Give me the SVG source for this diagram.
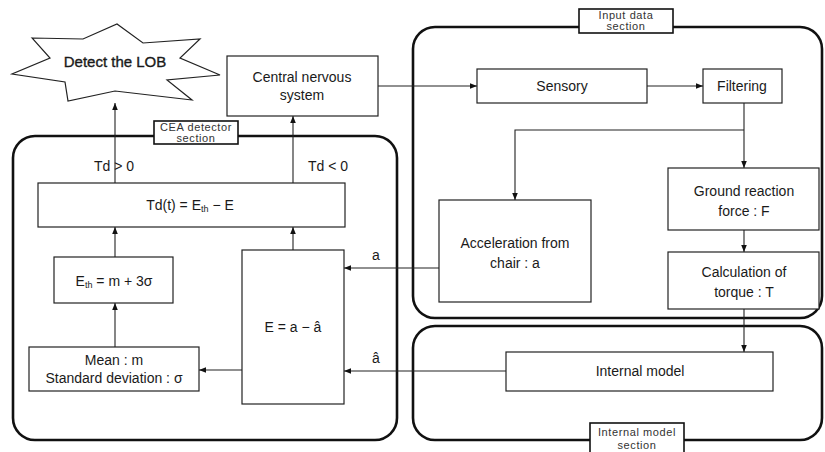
<svg xmlns="http://www.w3.org/2000/svg" width="825" height="452" viewBox="0 0 825 452">
<defs>
<marker id="ah" viewBox="0 0 10 10" refX="10" refY="5" markerWidth="7" markerHeight="7" markerUnits="userSpaceOnUse" orient="auto">
<path d="M0,1 L10,5 L0,9 Z" fill="#111"/>
</marker>
<style>
text{font-family:"Liberation Sans",Arial,sans-serif;fill:#1a1a1a;text-anchor:middle}
.t{font-size:14px}
.s{font-size:11px;letter-spacing:0.6px;fill:#333}
.sub{font-size:9px}
.box{fill:#fff;stroke:#222;stroke-width:1.2}
.sec{fill:none;stroke:#111;stroke-width:2.6}
.lab{fill:#fff;stroke:#111;stroke-width:1.6}
.c{fill:none;stroke:#222;stroke-width:1.1}
</style>
</defs>
<rect width="825" height="452" fill="#fff"/>

<g id="sections">
<rect class="sec" x="13" y="136" width="384" height="304" rx="22"/>
<rect class="sec" x="413" y="27" width="409" height="291" rx="22"/>
<rect class="sec" x="413" y="326" width="409" height="114" rx="22"/>
</g>

<g id="connectors">
<line class="c" x1="115" y1="183" x2="115" y2="103" marker-end="url(#ah)"/>
<line class="c" x1="293" y1="183" x2="293" y2="116" marker-end="url(#ah)"/>
<line class="c" x1="115" y1="257" x2="115" y2="227" marker-end="url(#ah)"/>
<line class="c" x1="115" y1="347" x2="115" y2="303" marker-end="url(#ah)"/>
<line class="c" x1="293" y1="250" x2="293" y2="227" marker-end="url(#ah)"/>
<line class="c" x1="242" y1="370" x2="199" y2="370" marker-end="url(#ah)"/>
<line class="c" x1="439" y1="268" x2="344" y2="268" marker-end="url(#ah)"/>
<line class="c" x1="506" y1="371" x2="344" y2="371" marker-end="url(#ah)"/>
<line class="c" x1="378" y1="86" x2="477" y2="86" marker-end="url(#ah)"/>
<line class="c" x1="647" y1="86" x2="703" y2="86" marker-end="url(#ah)"/>
<line class="c" x1="744" y1="103" x2="744" y2="168" marker-end="url(#ah)"/>
<polyline class="c" points="744,130 515,130 515,200" marker-end="url(#ah)"/>
<line class="c" x1="744" y1="230" x2="744" y2="252" marker-end="url(#ah)"/>
<line class="c" x1="744" y1="309" x2="744" y2="352" marker-end="url(#ah)"/>
<text class="t" x="114" y="171">Td &gt; 0</text>
<text class="t" x="328" y="171">Td &lt; 0</text>
<text class="t" x="376" y="260">a</text>
<text class="t" x="376" y="363">â</text>
</g>

<g id="section-labels">
<rect class="lab" x="154" y="121" width="84" height="23"/>
<text class="s" x="196" y="131">CEA detector</text>
<text class="s" x="196" y="142">section</text>
<rect class="lab" x="579" y="9" width="94" height="24"/>
<text class="s" x="626" y="19">Input data</text>
<text class="s" x="626" y="30">section</text>
<rect class="lab" x="590" y="423" width="94" height="32"/>
<text class="s" x="637" y="436">Internal model</text>
<text class="s" x="637" y="449">section</text>
</g>

<g id="detect-lob">
<polygon points="32,38 83,39 117,24 143,43 200,39 180,58 220,75 167,80 192,100 115,91 68,101 65,82 12,74 50,58" fill="#fff" stroke="#222" stroke-width="1.2"/>
<text x="115" y="67" font-size="15" stroke="#1a1a1a" stroke-width="0.35">Detect the LOB</text>
</g>

<g id="cns">
<rect class="box" x="227" y="56" width="151" height="60"/>
<text class="t" x="302" y="82">Central nervous</text>
<text class="t" x="302" y="100">system</text>
</g>

<g id="td">
<rect class="box" x="38" y="183" width="307" height="44"/>
<text class="t" x="190" y="210">Td(t) = E<tspan class="sub" dy="2">th</tspan><tspan dy="-2"> − E</tspan></text>
</g>

<g id="eth">
<rect class="box" x="54" y="257" width="119" height="46"/>
<text class="t" x="114" y="286">E<tspan class="sub" dy="2">th</tspan><tspan dy="-2"> = m + 3σ</tspan></text>
</g>

<g id="mean">
<rect class="box" x="29" y="347" width="170" height="44"/>
<text class="t" x="114" y="365">Mean : m</text>
<text class="t" x="114" y="383">Standard deviation : σ</text>
</g>

<g id="error">
<rect class="box" x="242" y="250" width="102" height="154"/>
<text class="t" x="293" y="332">E = a − â</text>
</g>

<g id="sensory">
<rect class="box" x="477" y="69" width="170" height="34"/>
<text class="t" x="562" y="91">Sensory</text>
</g>

<g id="filtering">
<rect class="box" x="703" y="69" width="79" height="34"/>
<text class="t" x="742" y="91">Filtering</text>
</g>

<g id="grf">
<rect class="box" x="668" y="168" width="151" height="62"/>
<text class="t" x="744" y="196">Ground reaction</text>
<text class="t" x="744" y="216">force : F</text>
</g>

<g id="accel">
<rect class="box" x="439" y="200" width="152" height="102"/>
<text class="t" x="515" y="248">Acceleration from</text>
<text class="t" x="515" y="268">chair : a</text>
</g>

<g id="torque">
<rect class="box" x="668" y="252" width="151" height="57"/>
<text class="t" x="744" y="277">Calculation of</text>
<text class="t" x="744" y="297">torque : T</text>
</g>

<g id="internal">
<rect class="box" x="506" y="352" width="267" height="39"/>
<text class="t" x="640" y="376">Internal model</text>
</g>
</svg>
